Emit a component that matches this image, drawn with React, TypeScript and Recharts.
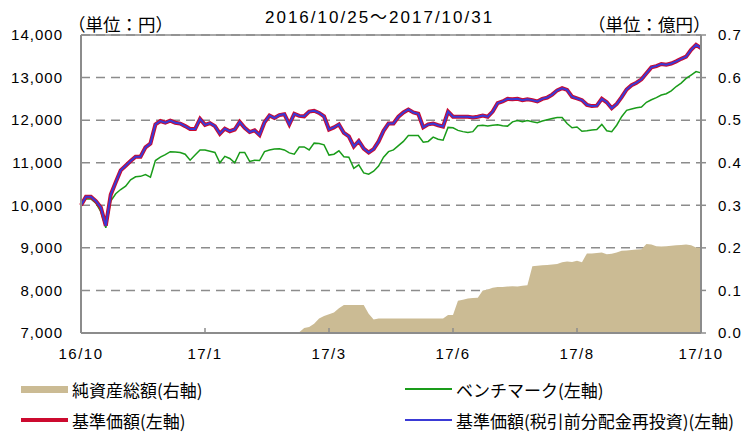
import React from 'react'
import { ComposedChart, Area, Line, XAxis, YAxis, CartesianGrid, ReferenceLine } from 'recharts'

// x軸: 営業日を2日おきに取った通し番号（0〜125）
const tickIndex = [0, 25, 50, 75, 100, 125]
const tickLabels = ['16/10', '17/1', '17/3', '17/6', '17/8', '17/10']
const leftTicks = [7000, 8000, 9000, 10000, 11000, 12000, 13000, 14000]
const rightTicks = [0, 0.1, 0.2, 0.3, 0.4, 0.5, 0.6, 0.7]

// 基準価額（円）
const nav = [
  10000, 10200, 10200, 10100, 9950, 9520, 10250, 10540, 10820, 10930,
  11040, 11140, 11140, 11360, 11450, 11900, 11980, 11940, 11990, 11940,
  11920, 11860, 11790, 11790, 12030, 11890, 11930, 11860, 11680, 11800,
  11740, 11780, 11960, 11820, 11720, 11760, 11650, 11950, 12110, 12050,
  12120, 12140, 11900, 12150, 12100, 12090, 12200, 12220, 12170, 12090,
  11780, 11830, 11900, 11700, 11620, 11380, 11510, 11330, 11240, 11320,
  11500, 11750, 11920, 11920, 12080, 12180, 12250, 12180, 12150, 11830,
  11900, 11920, 11880, 11850, 12200, 12080, 12080, 12080, 12080, 12060,
  12080, 12110, 12080, 12200, 12400, 12440, 12500, 12490, 12500, 12470,
  12490, 12470, 12440, 12500, 12530, 12600, 12700, 12750, 12710, 12550,
  12510, 12470, 12360, 12330, 12340, 12500, 12420, 12280, 12380, 12540,
  12720, 12820, 12880, 12960, 13100, 13240, 13270, 13320, 13300, 13330,
  13380, 13440, 13490, 13650, 13770, 13690,
]

// 税引前分配金再投資：分配なしのため基準価額と重なる
const navReinvest = [...nav]

// ベンチマーク（円換算）
const benchmark = [
  10000, 10150, 10150, 10050, 9850, 9470, 10100, 10270, 10370, 10450,
  10600, 10670, 10680, 10720, 10660, 11050, 11130, 11190, 11260, 11250,
  11240, 11200, 11060, 11180, 11300, 11300, 11270, 11240, 11000, 11150,
  11100, 11000, 11240, 11240, 11030, 11060, 11050, 11260, 11300, 11320,
  11330, 11300, 11230, 11200, 11370, 11370, 11300, 11460, 11450, 11420,
  11180, 11200, 11280, 11140, 11130, 10870, 10950, 10760, 10730, 10800,
  10920, 11130, 11260, 11300, 11400, 11500, 11640, 11640, 11640, 11480,
  11500, 11600, 11550, 11530, 11830, 11820, 11760, 11730, 11710, 11730,
  11870, 11880, 11860, 11880, 11890, 11870, 11860, 11960, 11990, 11960,
  11990, 11960, 11940, 11980, 12010, 12040, 12060, 12060, 11920, 11820,
  11840, 11740, 11750, 11770, 11780, 11900, 11750, 11730, 11880, 12080,
  12230, 12260, 12290, 12310, 12420, 12480, 12530, 12590, 12620, 12690,
  12790, 12870, 12980, 13060, 13140, 13110,
]

// 純資産総額（億円）
const netAssets = [
  null, null, null, null, null, null, null, null, null, null,
  null, null, null, null, null, null, null, null, null, null,
  null, null, null, null, null, null, null, null, null, null,
  null, null, null, null, null, null, null, null, null, null,
  null, null, null, 0, 0.002, 0.012, 0.014, 0.022, 0.034, 0.04,
  0.044, 0.048, 0.058, 0.066, 0.066, 0.066, 0.066, 0.066, 0.045, 0.032,
  0.034, 0.034, 0.034, 0.034, 0.034, 0.034, 0.034, 0.034, 0.034, 0.034,
  0.034, 0.034, 0.034, 0.034, 0.042, 0.042, 0.076, 0.078, 0.081, 0.082,
  0.083, 0.1, 0.102, 0.106, 0.108, 0.108, 0.109, 0.11, 0.109, 0.111,
  0.112, 0.157, 0.158, 0.159, 0.16, 0.161, 0.162, 0.166, 0.168, 0.167,
  0.17, 0.166, 0.187, 0.187, 0.188, 0.189, 0.185, 0.186, 0.189, 0.193,
  0.194, 0.195, 0.196, 0.197, 0.209, 0.208, 0.204, 0.203, 0.204, 0.205,
  0.206, 0.207, 0.208, 0.206, 0.201, 0.2,
]

const data = nav.map((v, i) => ({
  i,
  nav: v,
  reinvest: navReinvest[i],
  bench: benchmark[i],
  assets: netAssets[i],
}))

const GRAY = '#8c8c8c'
const TAN = '#cbbb94'
const GREEN = '#1a9c1a'
const RED = '#cc0a2f'
const BLUE = '#3a3ad6'

const jp = '"Noto Sans CJK JP", sans-serif'
const latin = '"Liberation Sans", Arial, "Noto Sans CJK JP", sans-serif'

const legendRows = [
  [
    { label: '純資産総額(右軸)', color: TAN, h: 7 },
    { label: 'ベンチマーク(左軸)', color: GREEN, h: 2 },
  ],
  [
    { label: '基準価額(左軸)', color: RED, h: 4 },
    { label: '基準価額(税引前分配金再投資)(左軸)', color: BLUE, h: 2 },
  ],
]

function LegendBox() {
  return (
    <>
      {legendRows.map((row, r) =>
        row.map((item, c) => (
          <div
            key={r + '-' + c}
            style={{
              position: 'absolute',
              left: c === 0 ? 21 : 405,
              top: r === 0 ? 379 : 410,
              height: 20,
              display: 'flex',
              alignItems: 'center',
              fontFamily: jp,
              fontSize: 17,
              color: '#000',
              whiteSpace: 'nowrap',
            }}
          >
            <span style={{ display: 'inline-block', width: 47, height: item.h, background: item.color, marginRight: 4 }} />
            <span>{item.label}</span>
          </div>
        ))
      )}
    </>
  )
}

export default function App() {
  return (
    <div style={{ position: 'absolute', left: 0, top: 0, width: 755, height: 432, background: '#fff' }}>
      <ComposedChart
        width={755}
        height={432}
        data={data}
        margin={{ top: 35, right: 0, bottom: 69, left: 0 }}
        style={{ fontFamily: latin }}
      >
        <CartesianGrid
          yAxisId="left"
          vertical={false}
          stroke={GRAY}
          strokeWidth={1.5}
          strokeDasharray="9 6"
        />
        <XAxis
          dataKey="i"
          type="number"
          domain={[0, 125]}
          ticks={tickIndex}
          interval={0}
          tickFormatter={(v: number) => tickLabels[tickIndex.indexOf(v)]}
          height={30}
          axisLine={{ stroke: GRAY, strokeWidth: 2 }}
          tickLine={{ stroke: GRAY, strokeWidth: 1.5 }}
          tickSize={-5}
          tickMargin={20}
          tick={{ fill: '#000', fontSize: 15, letterSpacing: 1.5 }}
        />
        <YAxis
          yAxisId="left"
          domain={[7000, 14000]}
          ticks={leftTicks}
          interval={0}
          width={81}
          tickFormatter={(v: number) => v.toLocaleString('en-US')}
          axisLine={{ stroke: GRAY, strokeWidth: 2 }}
          tickLine={false}
          tickSize={0}
          tickMargin={18}
          tick={{ fill: '#000', fontSize: 15, letterSpacing: 1 }}
        />
        <YAxis
          yAxisId="right"
          orientation="right"
          domain={[0, 0.7]}
          ticks={rightTicks}
          interval={0}
          width={54}
          tickFormatter={(v: number) => v.toFixed(1)}
          axisLine={{ stroke: GRAY, strokeWidth: 2 }}
          tickLine={{ stroke: GRAY, strokeWidth: 1.5 }}
          tickSize={5}
          tickMargin={12}
          tick={{ fill: '#000', fontSize: 15, letterSpacing: 1 }}
        />
        <ReferenceLine yAxisId="left" y={14000} stroke={GRAY} strokeWidth={1.5} />
        <Area
          yAxisId="right"
          dataKey="assets"
          type="linear"
          fill={TAN}
          fillOpacity={1}
          stroke="none"
          isAnimationActive={false}
          dot={false}
          activeDot={false}
        />
        <Line
          yAxisId="left"
          dataKey="bench"
          type="linear"
          stroke={GREEN}
          strokeWidth={1.5}
          dot={false}
          activeDot={false}
          isAnimationActive={false}
        />
        <Line
          yAxisId="left"
          dataKey="nav"
          type="linear"
          stroke={RED}
          strokeWidth={4}
          dot={false}
          activeDot={false}
          isAnimationActive={false}
        />
        <Line
          yAxisId="left"
          dataKey="reinvest"
          type="linear"
          stroke={BLUE}
          strokeWidth={2}
          dot={false}
          activeDot={false}
          isAnimationActive={false}
        />
      </ComposedChart>

      <div style={{ position: 'absolute', left: 265, top: 8, fontFamily: latin, fontSize: 17, letterSpacing: 2, lineHeight: '20px', whiteSpace: 'nowrap' }}>
        2016/10/25～2017/10/31
      </div>
      <div style={{ position: 'absolute', left: 68, top: 15, fontFamily: jp, fontSize: 17.5, lineHeight: '18px', whiteSpace: 'nowrap' }}>
        （単位：円）
      </div>
      <div style={{ position: 'absolute', left: 588, top: 15, fontFamily: jp, fontSize: 17.5, lineHeight: '18px', whiteSpace: 'nowrap' }}>
        （単位：億円）
      </div>
      <LegendBox />
    </div>
  )
}
